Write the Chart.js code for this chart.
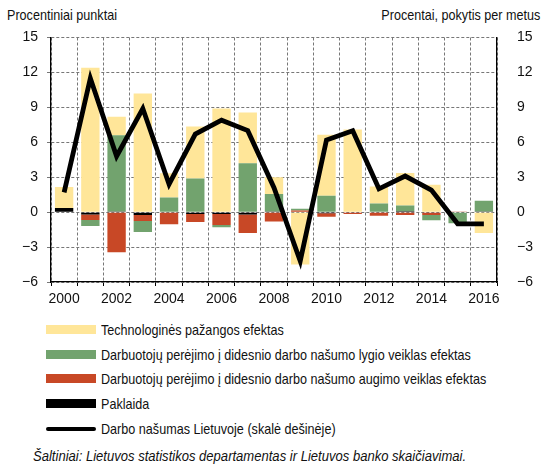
<!DOCTYPE html>
<html>
<head>
<meta charset="utf-8">
<script src="https://cdn.jsdelivr.net/npm/chart.js@4.4.1/dist/chart.umd.min.js"></script>
<style>
    body { margin: 0; width: 545px; height: 466px; position: relative; overflow: hidden; background: #fff;
           font-family: "Liberation Sans", Arial, sans-serif; color: #111; }
    #myChart { position: absolute; left: 0; top: 0; }
    .axis-title { position: absolute; top: 6px; font-size: 15px; white-space: nowrap; transform: scaleX(0.84); }
    .t-left { left: 7px; transform-origin: left center; }
    .t-right { right: 5px; transform-origin: right center; }
    #legend { position: absolute; left: 46px; top: 317px; }
    .legend-row { height: 24.8px; display: flex; align-items: center; font-size: 15px; white-space: nowrap; }
    .legend-row span { display: inline-block; transform: scaleX(0.84); transform-origin: left center; }
    .swatch { width: 50px; margin-right: 5px; flex: none; }
    .source { position: absolute; left: 33px; top: 447px; font-size: 15px; font-style: italic; white-space: nowrap;
              transform: scaleX(0.87); transform-origin: left center; }
</style>
</head>
<body>
<div class="axis-title t-left">Procentiniai punktai</div>
<div class="axis-title t-right">Procentai, pokytis per metus</div>
<canvas id="myChart" width="545" height="315"></canvas>
<div id="legend"></div>
<div class="source">Šaltiniai: Lietuvos statistikos departamentas ir Lietuvos banko skaičiavimai.</div>
<script>
// metai
const years = ['2000','2001','2002','2003','2004','2005','2006','2007','2008','2009','2010','2011','2012','2013','2014','2015','2016'];

// procentiniai punktai (kairė skalė)
const techEffect   = [1.8, 12.4, 1.6, 10.2, 2.1, 4.45, 8.9, 4.35, 1.45, -4.5, 5.25, 7.1, 1.45, 2.8, 2.35, 0, -1.8];
const levelEffect  = [0, -0.52, 6.55, -0.95, 1.25, 2.9, -0.2, 4.2, 1.5, 0.15, 1.4, 0, 0.75, 0.5, -0.45, -0.95, 0.92];
const growthEffect = [0, -0.48, -3.45, -0.5, -1.05, -0.7, -0.95, -1.6, -0.8, 0.15, -0.3, -0.15, -0.3, -0.25, -0.2, 0.05, 0];
const residual     = [0.35, -0.2, 0.05, -0.25, 0, -0.15, -0.15, -0.2, 0.05, 0, -0.1, 0, 0, 0.07, -0.05, 0, 0.05];

// procentai, pokytis per metus (dešinė skalė)
const productivity = [1.7, 11.5, 4.8, 8.9, 2.4, 6.7, 7.9, 7.0, 2.1, -4.2, 6.2, 7.0, 2.0, 3.1, 1.9, -1.0, -1.0];

const yTicks = [-6, -3, 0, 3, 6, 9, 12, 15];

const YELLOW = 'rgb(255,230,153)';
const GREEN = 'rgb(114,163,110)';
const RED = 'rgb(200,72,38)';
const BLACK = '#000';

const labels = {
    tech: 'Technologinės pažangos efektas',
    level: 'Darbuotojų perėjimo į didesnio darbo našumo lygio veiklas efektas',
    growth: 'Darbuotojų perėjimo į didesnio darbo našumo augimo veiklas efektas',
    residual: 'Paklaida',
    line: 'Darbo našumas Lietuvoje (skalė dešinėje)'
};

const fmt = (v) => v < 0 ? '\u2212' + Math.abs(v) : String(v);

Chart.defaults.font.family = '"Liberation Sans", Arial, sans-serif';
Chart.defaults.font.size = 14;
Chart.defaults.color = '#111';

const bar = (label, data, color) => ({
    type: 'bar', label, data, backgroundColor: color, borderWidth: 0,
    yAxisID: 'y', stack: 'parts', barPercentage: 0.7, categoryPercentage: 1
});

new Chart(document.getElementById('myChart'), {
    data: {
        labels: years,
        datasets: [
            {
                type: 'line', label: labels.line, data: productivity, yAxisID: 'y2',
                borderColor: BLACK, borderWidth: 4.8, pointRadius: 0, tension: 0,
                borderJoinStyle: 'miter', borderCapStyle: 'butt', fill: false
            },
            bar(labels.residual, residual, BLACK),
            bar(labels.growth, growthEffect, RED),
            bar(labels.level, levelEffect, GREEN),
            bar(labels.tech, techEffect, YELLOW)
        ]
    },
    options: {
        responsive: false,
        animation: false,
        layout: { padding: { top: 37.5, left: 0, right: 0, bottom: 0 } },
        plugins: { legend: { display: false }, tooltip: { enabled: false } },
        scales: {
            x: {
                stacked: true,
                afterFit: (s) => { s.height = 33; },
                grid: { offset: true, color: '#777', tickColor: '#000', tickLength: 4, lineWidth: 1 },
                border: { color: '#000', width: 1.3, dash: [3, 2] },
                ticks: {
                    autoSkip: false, maxRotation: 0, padding: 5,
                    callback: (v, i) => i % 2 === 0 ? years[i] : ''
                }
            },
            y: {
                position: 'left', stacked: true, min: -6, max: 15,
                afterFit: (s) => { s.width = 51; },
                afterBuildTicks: (s) => { s.ticks = yTicks.map(v => ({ value: v })); },
                grid: { color: '#777', tickLength: 4, tickColor: '#777', tickBorderDash: [3, 2] },
                border: { color: '#000', width: 1.3, dash: [3, 2] },
                ticks: { padding: 9, callback: fmt }
            },
            y2: {
                position: 'right', min: -6, max: 15,
                afterFit: (s) => { s.width = 48; },
                afterBuildTicks: (s) => { s.ticks = yTicks.map(v => ({ value: v })); },
                grid: { display: false },
                border: { color: '#000', width: 1.3 },
                ticks: { padding: 12, callback: fmt }
            }
        }
    }
});

// legenda
const legendItems = [
    { text: labels.tech, color: YELLOW, kind: 'bar' },
    { text: labels.level, color: GREEN, kind: 'bar' },
    { text: labels.growth, color: RED, kind: 'bar' },
    { text: labels.residual, color: BLACK, kind: 'bar' },
    { text: labels.line, color: BLACK, kind: 'line' }
];
const legendBox = document.getElementById('legend');
legendItems.forEach(item => {
    const sw = item.kind === 'bar'
        ? `<div class="swatch" style="height:9px;background:${item.color}"></div>`
        : `<div class="swatch" style="height:4px;border-radius:2px;background:${item.color}"></div>`;
    legendBox.insertAdjacentHTML('beforeend', `<div class="legend-row">${sw}<span>${item.text}</span></div>`);
});
</script>
</body>
</html>
